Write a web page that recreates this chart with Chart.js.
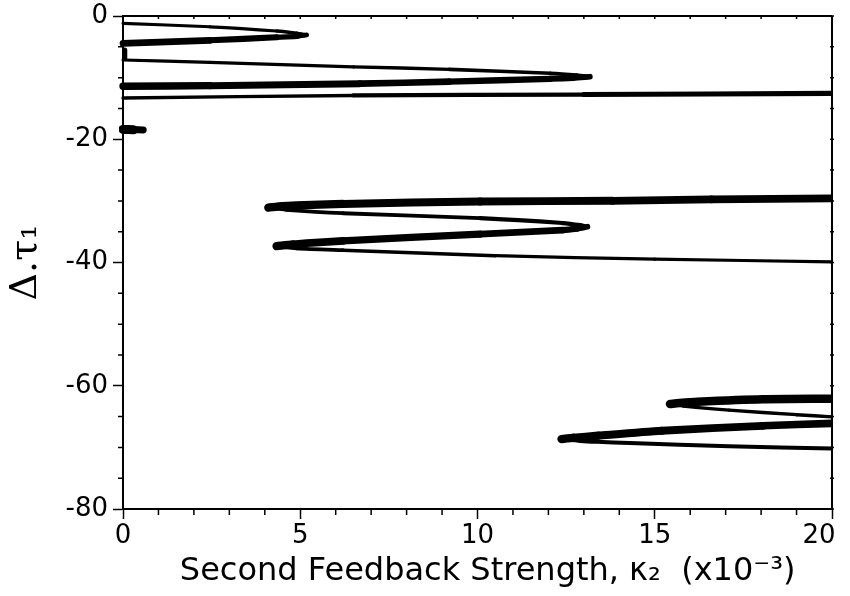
<!DOCTYPE html>
<html><head><meta charset="utf-8">
<script src="https://cdn.jsdelivr.net/npm/chart.js@4"></script>
<style>html,body{margin:0;padding:0;background:#fff}#c{display:block}</style>
</head><body>
<canvas id="c" width="850" height="596"></canvas>
<script>
// ---- tick labels ----
const xTicks = [0, 5, 10, 15, 20];
const yTicks = [0, -20, -40, -60, -80];
const xMinor = [1,2,3,4,6,7,8,9,11,12,13,14,16,17,18,19];
const yMinor = [-5,-10,-15,-25,-30,-35,-45,-50,-55,-65,-70,-75];

// ---- curve branches: x = kappa2 (x10^-3), y = delta tau1 ----
// top fold
const a1X = [0, 2.45, 4.33, 4.9, 5.18];
const a1Y = [-1.2, -1.75, -2.43, -2.8, -3.08];
const a2X = [5.18, 4.9, 4.33, 2.45, 0];
const a2Y = [-3.08, -3.3, -3.46, -3.95, -4.45];
const a3X = [0.05, 0.05];
const a3Y = [-5.5, -6.9];
// second fold
const b1X = [0, 2.45, 6.5, 9.2, 12.05, 12.8, 13.17];
const b1Y = [-7.14, -7.52, -8.25, -8.66, -9.3, -9.6, -9.85];
const b2X = [13.17, 12.7, 12.05, 9.2, 6.68, 2.45, 0];
const b2Y = [-9.85, -10.05, -10.2, -10.65, -10.98, -11.3, -11.4];
const b3X = [0, 6.5, 13, 20];
const b3Y = [-13.3, -12.9, -12.75, -12.55];
// short piece
const cX = [0, 0.3, 0.57];
const cY = [-18.4, -18.45, -18.5];
// middle double fold
const d1X = [20, 16.6, 13.8, 10.07, 6.2, 4.5, 4.1];
const d1Y = [-29.6, -29.76, -29.98, -30.1, -30.5, -30.85, -31.1];
const d2X = [4.1, 4.6, 6.2, 10.07, 12.4, 12.9, 13.1];
const d2Y = [-31.1, -31.45, -32.0, -32.8, -33.6, -33.95, -34.2];
const d3X = [13.1, 12.8, 12.4, 10.07, 6.2, 4.8, 4.33];
const d3Y = [-34.2, -34.5, -34.75, -35.4, -36.5, -37.05, -37.35];
const d4X = [4.33, 4.9, 6.2, 10.5, 15, 20];
const d4Y = [-37.35, -37.7, -38.0, -38.9, -39.45, -39.9];
// bottom double fold
const e1X = [20, 18.05, 16.2, 15.7, 15.43];
const e1Y = [-62.1, -62.2, -62.6, -62.8, -62.95];
const e2X = [15.43, 15.8, 17.1, 19, 20];
const e2Y = [-62.95, -63.3, -63.96, -64.7, -65.05];
const e3X = [20, 18.05, 15.2, 13.4, 12.7, 12.37];
const e3Y = [-66.1, -66.5, -67.3, -68.1, -68.45, -68.65];
const e4X = [12.37, 12.9, 13.37, 14.3, 17.1, 20];
const e4Y = [-68.65, -68.95, -69.1, -69.3, -69.8, -70.2];

// ---- styling (line widths start -> end) ----
const branches = [
  [a1X, a1Y, 3, 3.5], [a2X, a2Y, 4.5, 7], [a3X, a3Y, 5, 5],
  [b1X, b1Y, 3, 4], [b2X, b2Y, 5.5, 7.5], [b3X, b3Y, 3, 5.5],
  [cX, cY, 10, 6],
  [d1X, d1Y, 7.5, 8.5], [d2X, d2Y, 3.5, 4.5], [d3X, d3Y, 5.5, 8.5], [d4X, d4Y, 4, 3],
  [e1X, e1Y, 8.5, 8.5], [e2X, e2Y, 3, 3.5], [e3X, e3Y, 7.5, 8.5], [e4X, e4Y, 4, 4]
];

const datasets = branches.map(([xs, ys, w0, w1]) => {
  const n = xs.length;
  return {
    data: xs.map((v, i) => ({x: v, y: ys[i]})),
    showLine: true,
    borderColor: '#000',
    backgroundColor: '#000',
    borderWidth: Math.max(w0, w1),
    borderCapStyle: 'round',
    borderJoinStyle: 'round',
    pointRadius: 0,
    pointHoverRadius: 0,
    tension: 0.25,
    clip: {left: 4, top: 0, right: 0, bottom: 0},
    segment: {
      borderWidth: ctx => w0 + (w1 - w0) * ((ctx.p0DataIndex + 0.5) / Math.max(1, n - 1))
    }
  };
});

const frame = {
  id: 'frame',
  afterDraw(chart) {
    const {ctx, chartArea: a, scales: {x, y}} = chart;
    ctx.save();
    ctx.strokeStyle = '#000';
    ctx.lineWidth = 2;
    ctx.beginPath();
    ctx.moveTo(a.left, a.top); ctx.lineTo(a.right, a.top);
    ctx.moveTo(a.right, a.top); ctx.lineTo(a.right, a.bottom);
    ctx.stroke();
    ctx.lineWidth = 1.5;
    ctx.beginPath();
    yMinor.forEach(v => { const p = y.getPixelForValue(v); ctx.moveTo(a.left - 5, p); ctx.lineTo(a.left, p); ctx.moveTo(a.right - 2, p); ctx.lineTo(a.right + 2, p); });
    yTicks.forEach(v => { const p = y.getPixelForValue(v); ctx.moveTo(a.right - 2, p); ctx.lineTo(a.right + 2, p); });
    xMinor.forEach(v => { const p = x.getPixelForValue(v); ctx.moveTo(p, a.bottom); ctx.lineTo(p, a.bottom + 6); ctx.moveTo(p, a.top); ctx.lineTo(p, a.top + 3); });
    xTicks.forEach(v => { const p = x.getPixelForValue(v); ctx.moveTo(p, a.top); ctx.lineTo(p, a.top + 3); });
    ctx.stroke();
    ctx.restore();
  }
};

Chart.defaults.font.family = '"DejaVu Sans", "Liberation Sans", sans-serif';
Chart.defaults.color = '#000';

new Chart(document.getElementById('c'), {
  type: 'scatter',
  data: {datasets},
  options: {
    responsive: false,
    animation: false,
    devicePixelRatio: 1,
    layout: {padding: {top: 16, right: 18, left: 0, bottom: 0}},
    plugins: {legend: {display: false}, tooltip: {enabled: false}},
    events: [],
    scales: {
      x: {
        type: 'linear', min: 0, max: 20,
        afterBuildTicks: s => { s.ticks = xTicks.map(v => ({value: v})); },
        afterFit: s => { s.height = 87; s.paddingLeft = 0; s.paddingRight = 0; },
        ticks: {font: {size: 26}, color: '#000', padding: 2, maxRotation: 0, autoSkip: false,
                callback: v => v === 20 ? '20\u2003' : String(v)},
        grid: {drawOnChartArea: false, drawTicks: true, tickLength: 10, tickColor: '#000', tickWidth: 1.5},
        border: {display: true, color: '#000', width: 2},
        title: {display: true, text: '  Second Feedback Strength, κ₂  (x10⁻³)', font: {size: 32}, color: '#000', padding: {top: 0, bottom: 5}}
      },
      y: {
        type: 'linear', min: -80, max: 0,
        afterBuildTicks: s => { s.ticks = yTicks.map(v => ({value: v})); },
        afterFit: s => { s.width = 123; s.paddingTop = 0; s.paddingBottom = 0; },
        ticks: {font: {size: 26}, color: '#000', padding: 5, autoSkip: false},
        grid: {drawOnChartArea: false, drawTicks: true, tickLength: 10, tickColor: '#000', tickWidth: 1.5},
        border: {display: true, color: '#000', width: 2},
        title: {display: true, text: 'Δ.τ₁', font: {size: 38, family: '"DejaVu Serif", "Liberation Serif", serif'}, color: '#000', padding: {top: 3, bottom: 0}}
      }
    }
  },
  plugins: [frame]
});
</script>
</body></html>
